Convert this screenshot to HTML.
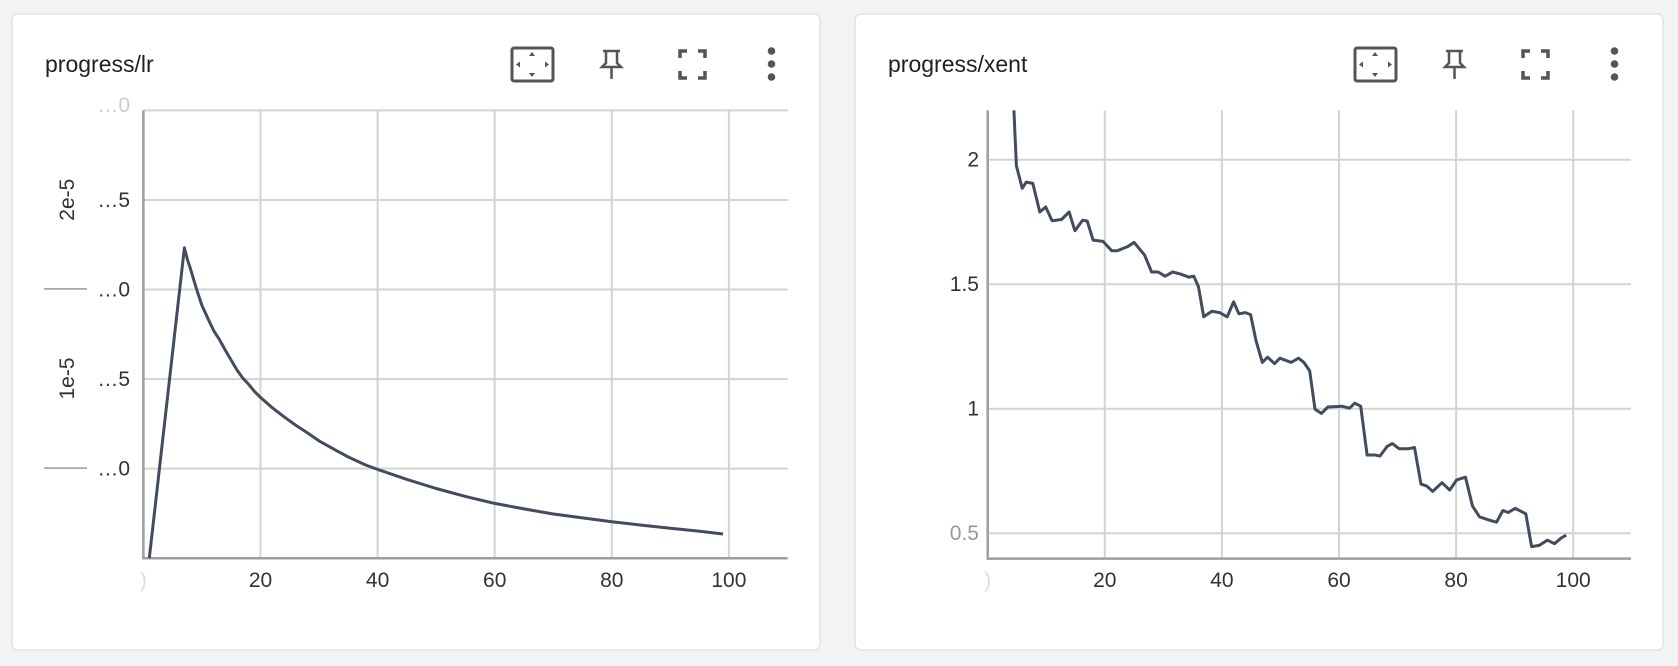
<!DOCTYPE html>
<html><head><meta charset="utf-8"><style>
html,body{margin:0;padding:0;background:#f2f3f4;width:1678px;height:666px;overflow:hidden;font-family:"Liberation Sans",sans-serif}
</style></head><body>
<svg width="1678" height="666" xmlns="http://www.w3.org/2000/svg">
<g id="root"></g>
</svg>
<script>
// ---- lr chart data ----
const lrSteps = [1,7,7.5,8,8.5,9,9.5,10,10.5,11,11.5,12,13,14,15,16,17,18,19,20,22,24,26,28,30,33,35,38,40,45,50,55,60,65,70,75,80,85,90,95,99];
const lrVals  = [0.0,1.733,1.67,1.62,1.565,1.51,1.46,1.41,1.375,1.34,1.305,1.27,1.22,1.16,1.105,1.05,1.005,0.97,0.93,0.898,0.84,0.79,0.743,0.70,0.655,0.60,0.565,0.52,0.496,0.44,0.389,0.345,0.306,0.275,0.247,0.225,0.204,0.185,0.167,0.15,0.135]; // units of 1e-5
const lrXTicks = [0,20,40,60,80,100];
const lrYTicks = [0,0.5,1,1.5,2,2.5];
const lrYTickLabels = ["","…0","…5","…0","…5",""];
// ---- xent chart data ----
const xentSteps = [4,4.9,5.9,6.6,7.7,8.9,9.9,11,12.6,13.9,14.9,16.2,17,18,19.7,21.2,22.1,23.9,25,26.8,28,29.1,30.3,31.6,33,34.4,35.2,36,36.9,38.3,39.6,40.9,42,42.9,44,44.9,45.8,46.9,47.8,49,49.9,51.8,53.1,54,55,55.9,57,58.1,60.5,61.8,62.7,63.7,64.8,66.2,67,68.2,69.1,70.3,71.8,72.9,74,75,76,77.6,78.9,80.1,81.6,82.8,84,85.5,86.9,88,88.9,90.1,91.9,92.9,94.2,95.6,96.8,97.9,98.8];
const xentVals  = [2.45,1.976,1.885,1.91,1.905,1.79,1.81,1.755,1.76,1.79,1.715,1.757,1.754,1.677,1.672,1.634,1.634,1.651,1.668,1.617,1.549,1.549,1.532,1.549,1.54,1.528,1.532,1.489,1.369,1.391,1.386,1.369,1.429,1.381,1.386,1.378,1.275,1.186,1.207,1.181,1.203,1.186,1.203,1.186,1.152,0.998,0.981,1.007,1.01,1.002,1.022,1.01,0.814,0.814,0.81,0.848,0.86,0.839,0.839,0.844,0.697,0.689,0.668,0.703,0.673,0.714,0.725,0.609,0.566,0.554,0.544,0.591,0.583,0.6,0.578,0.446,0.451,0.472,0.458,0.48,0.492];
const xentXTicks = [0,20,40,60,80,100];
const xentYTicks = [0.5,1,1.5,2];
const xentYTickLabels = ["0.5","1","1.5","2"];

const NS="http://www.w3.org/2000/svg";
const root=document.getElementById('root');
function mk(tag,attrs,parent){const e=document.createElementNS(NS,tag);for(const k in attrs)e.setAttribute(k,attrs[k]);(parent||root).appendChild(e);return e;}

function panel(ox,title,key){
  const g=mk('g',{transform:`translate(${ox},0)`});
  
  
  const card=mk('rect',{x:12,y:14,width:808,height:636,rx:6,fill:'#fff',stroke:'#e3e4e6','stroke-width':1.5},g);
  
  
  const t=mk('text',{x:45,y:72,'font-size':23,fill:'#212121'},g);t.textContent=title;
  
  
  const i1=mk('g',{},g);
  
  
  mk('rect',{x:512,y:48,width:41,height:33,rx:2,fill:'none',stroke:'#555','stroke-width':3},i1);
  mk('path',{d:'M532,52 l3,4 h-6z M532,77 l3,-4 h-6z M516,64.5 l4,-3 v6z M549,64.5 l-4,-3 v6z',fill:'#555'},i1);
  const i2=mk('g',{},g);
  
  
  mk('path',{d:'M603,51 h17 M606,51 v12 l-4,4 h19 l-4,-4 v-12 M611.5,67 v12',fill:'none',stroke:'#555','stroke-width':2.5},i2);
  const i3=mk('g',{},g);
  
  
  mk('path',{d:'M680,58 v-7 h7 M698,51 h7 v7 M705,71 v7 h-7 M687,78 h-7 v-7',fill:'none',stroke:'#555','stroke-width':3.5},i3);
  const i4=mk('g',{},g);
  
  
  [51,64,77].forEach(cy=>mk('circle',{cx:771.5,cy:cy,r:3.8,fill:'#555'},i4));
  return g;
}

function chart(g,key,steps,vals,xt,yt,ylab,ymin,ymax,top,bottom,left,right,ylabX){
  const xs=v=>left+(v/100)*(585.5);
  const ys=v=>bottom-(v-ymin)/(ymax-ymin)*(bottom-top);
  const grid=mk('g',{},g);
  
  
  xt.forEach(v=>{ if(v>0){ mk('line',{x1:xs(v),x2:xs(v),y1:top,y2:bottom,stroke:'#d3d3d3','stroke-width':2},grid);}
    const tl=mk('text',{x:xs(v),y:587,'font-size':21,fill:v===0?'#ddd':'#333','text-anchor':'middle'},g);
    tl.textContent=v===0?')':String(v);
    
    
  });
  yt.forEach((v,i)=>{const y=ys(v); if(y>top-1&&y<bottom-2) mk('line',{x1:left,x2:right,y1:y,y2:y,stroke:'#d3d3d3','stroke-width':2},grid);
    if(ylab[i]){const tl=mk('text',{x:ylabX,y:y+7,'font-size':21,fill:'#333','text-anchor':'end'},g);
    tl.textContent=ylab[i];
    
    }
  });
  const ax=mk('path',{d:`M${left},${top} V${bottom} H${right}`,fill:'none',stroke:'#9e9e9e','stroke-width':2.5},g);
  
  
  const cp=mk('clipPath',{id:'clip-'+key},g);
  mk('rect',{x:left,y:top,width:right-left,height:bottom-top},cp);
  const pts=steps.map((s,i)=>xs(s).toFixed(1)+','+ys(vals[i]).toFixed(1)).join(' ');
  const line=mk('polyline',{points:pts,fill:'none',stroke:'#424c5f','stroke-width':3,'stroke-linejoin':'round','clip-path':`url(#clip-${key})`},g);
  
  
}

const p1=panel(0,'progress/lr','lr');
chart(p1,'lr',lrSteps,lrVals,lrXTicks,lrYTicks,lrYTickLabels,0,2.5,110.4,558.2,143.4,787.6,130);
(function(){
  const tl=mk('text',{x:130,y:112,'font-size':21,fill:'#ccc','text-anchor':'end'},p1);tl.textContent='…0';
  
  
  [['2e-5',199.7],['1e-5',378.5]].forEach(([s,y])=>{
    const t=mk('text',{x:0,y:0,'font-size':21,fill:'#333','text-anchor':'middle',transform:`translate(74,${y}) rotate(-90)`},p1);t.textContent=s;
    
    
  });
  [288.9,468.1].forEach(y=>{const l=mk('line',{x1:44,x2:87,y1:y,y2:y,stroke:'#999','stroke-width':1.5},p1);
    
    });
})();
const p2=panel(843,'progress/xent','xent');
chart(p2,'xent',xentSteps,xentVals,xentXTicks,xentYTicks,xentYTickLabels,0.398,2.198,110.4,558.6,144.7,788,136);
p2.querySelectorAll('text').forEach(t=>{if(t.textContent==='0.5')t.setAttribute('fill','#999');});
</script>
</body></html>
